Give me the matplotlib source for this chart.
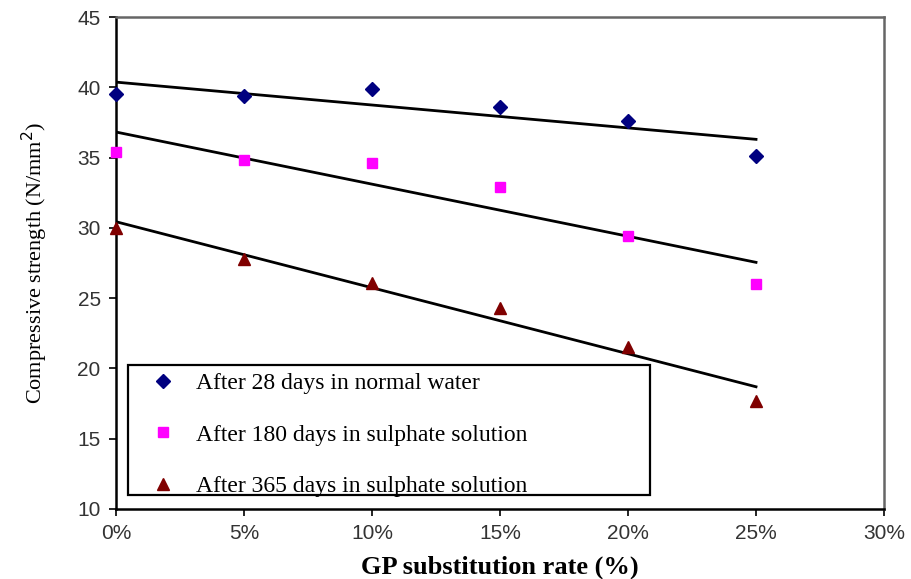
import numpy as np
import matplotlib.pyplot as plt
from matplotlib.patches import Rectangle
from matplotlib.ticker import FuncFormatter

# GP substitution rate (%) and compressive strength (N/mm2)
gp_rate = [0, 5, 10, 15, 20, 25]
water_28d = [39.5, 39.35, 39.85, 38.6, 37.6, 35.1]
sulphate_180d = [35.4, 34.8, 34.6, 32.9, 29.4, 26.0]
sulphate_365d = [30.0, 27.8, 26.1, 24.3, 21.5, 17.7]

labels = ["After 28 days in normal water",
          "After 180 days in sulphate solution",
          "After 365 days in sulphate solution"]

fig = plt.figure(figsize=(9.11, 5.79), dpi=100)
ax = fig.add_axes([0.1273, 0.1209, 0.8431, 0.8497])

series = [(water_28d, 'D', '#000080', 7),
          (sulphate_180d, 's', '#ff00ff', 7),
          (sulphate_365d, '^', '#800000', 8)]

x = np.array(gp_rate, dtype=float)
for (vals, mk, col, ms), lab in zip(series, labels):
    ax.plot(x, vals, linestyle='none', marker=mk, color=col, markersize=ms,
            label=lab, clip_on=False, zorder=3)
    # linear trendline
    k, b = np.polyfit(x, vals, 1)
    ax.plot([0, 25], [b, b + 25 * k], color='black', lw=2, zorder=2)

ax.set_xlim(0, 30)
ax.set_ylim(10, 45)
ax.set_xticks(np.arange(0, 31, 5))
ax.set_yticks(np.arange(10, 46, 5))
ax.xaxis.set_major_formatter(FuncFormatter(lambda v, p: '%d%%' % v))

for s in ['left', 'bottom']:
    ax.spines[s].set_color('black')
    ax.spines[s].set_linewidth(1.8)
for s in ['top', 'right']:
    ax.spines[s].set_color('#666666')
    ax.spines[s].set_linewidth(1.8)

ax.tick_params(direction='out', length=5, width=1.2, colors='black',
               labelsize=15, labelcolor='#333333', pad=6)
for t in ax.get_xticklabels() + ax.get_yticklabels():
    t.set_family('Liberation Sans')

ax.set_xlabel('GP substitution rate (%)', family='Liberation Serif',
              fontweight='bold', fontsize=19, labelpad=9)
ax.set_ylabel('Compressive strength (N/mm$^2$)', family='Liberation Serif',
              fontsize=16, labelpad=20)

# legend box drawn separately so it can be wider than the text
box = Rectangle((0.0156, 0.0285), 0.6797, 0.2642, transform=ax.transAxes,
                facecolor='white', edgecolor='black', lw=1.6, zorder=4)
ax.add_patch(box)
leg = ax.legend(loc='upper left', bbox_to_anchor=(0.046, 0.277),
                prop={'family': 'Liberation Serif', 'size': 17},
                frameon=False, labelspacing=1.27, handletextpad=0.9,
                handlelength=1.0, borderaxespad=0, borderpad=0)
leg.set_zorder(5)

fig.savefig('out.png', dpi=100)
